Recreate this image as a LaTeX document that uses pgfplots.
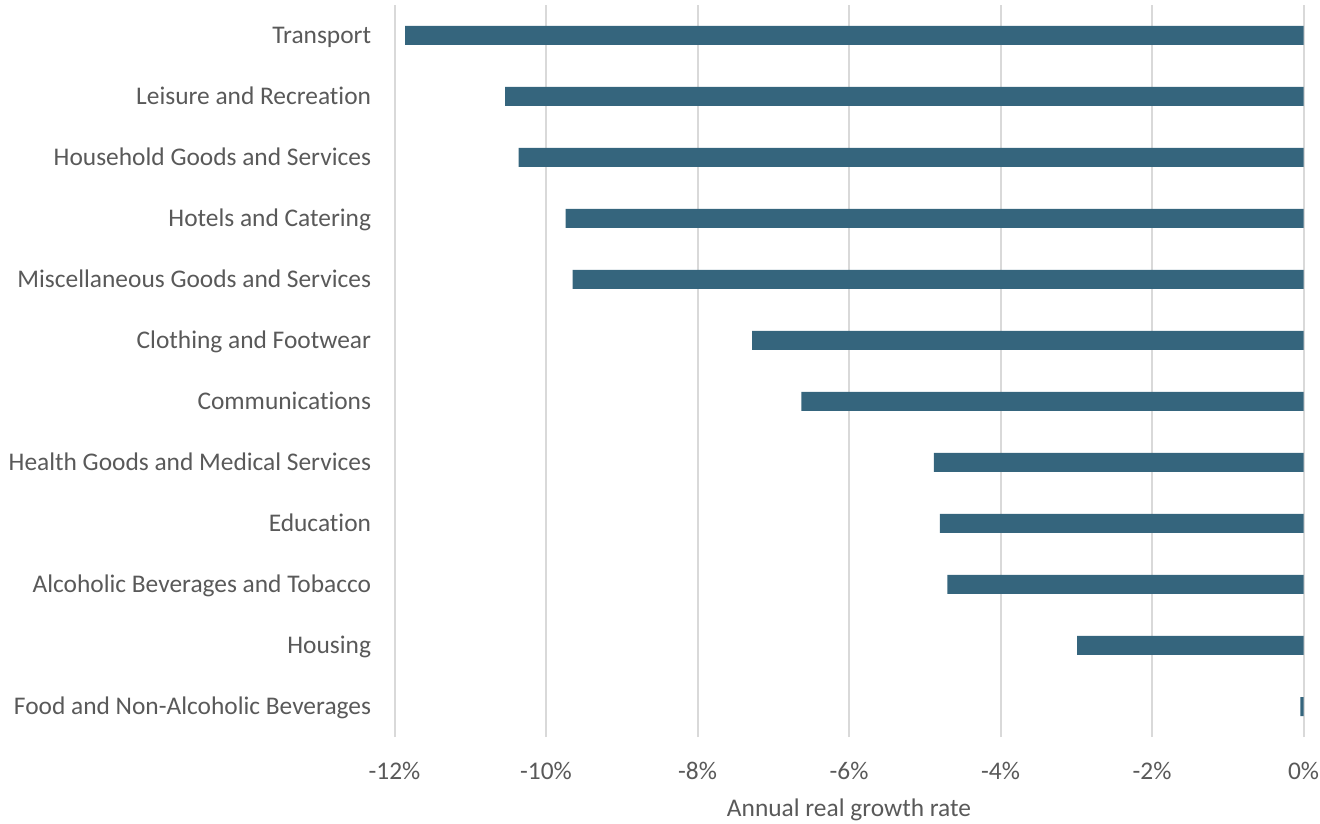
\documentclass[border=0pt]{standalone}
\usepackage{fontspec}
\setmainfont{Carlito}[Ligatures=NoCommon]
\usepackage{pgfplots}
\pgfplotsset{compat=1.18}
\definecolor{barc}{HTML}{35657D}
\definecolor{gridc}{HTML}{D9D9D9}
\definecolor{txt}{HTML}{595959}
\begin{document}
\fontsize{25.5}{29}\selectfont
\begin{tikzpicture}[x=1bp,y=1bp]
\useasboundingbox (0,0) rectangle (1320,823);
\begin{axis}[
  at={(394.5bp,86bp)}, anchor=south west,
  scale only axis, width=909bp, height=732bp,
  xmin=-12, xmax=0, ymin=-0.5, ymax=11.5,
  xbar, bar width=19bp,
  axis line style={draw=none}, tick style={draw=none},
  xmajorgrids, grid style={gridc, line width=2bp},
  xtick={-12,-10,-8,-6,-4,-2,0},
  xticklabels={-12\%,-10\%,-8\%,-6\%,-4\%,-2\%,0\%},
  ytick={0,...,11},
  yticklabels={Food and Non-Alcoholic Beverages, Housing, Alcoholic Beverages and Tobacco, Education, Health Goods and Medical Services, Communications, Clothing and Footwear, Miscellaneous Goods and Services, Hotels and Catering, Household Goods and Services, Leisure and Recreation, Transport},
  ticklabel style={font=\fontsize{25.5}{29}\selectfont, text=txt, inner sep=0pt},
  xticklabel style={anchor=base, yshift=-42bp},
  yticklabel style={anchor=base east, xshift=-19bp, yshift=-8bp},
  xlabel={Annual real growth rate},
  xlabel style={font=\fontsize{25.5}{29}\selectfont, text=txt, inner sep=0pt, at={(axis description cs:0.5,0)}, anchor=base, yshift=-79bp},
]
\addplot[fill=barc, draw=none] coordinates {
 (-0.04,0) (-2.99,1) (-4.70,2) (-4.80,3) (-4.88,4) (-6.63,5)
 (-7.28,6) (-9.65,7) (-9.74,8) (-10.36,9) (-10.54,10) (-11.86,11)
};
\end{axis}
\end{tikzpicture}
\end{document}
